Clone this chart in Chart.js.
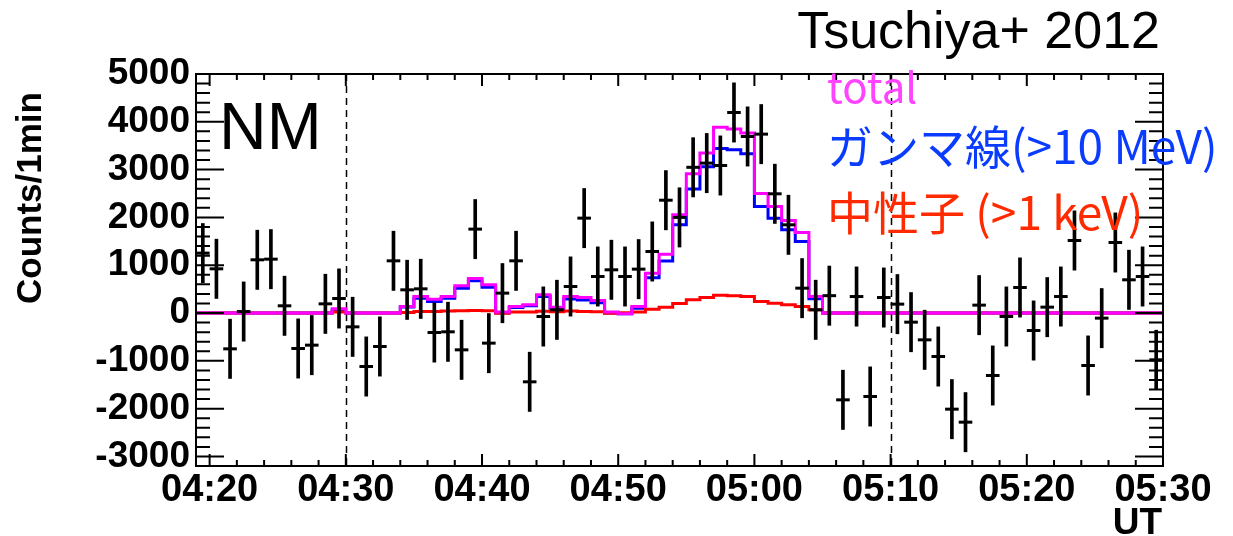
<!DOCTYPE html>
<html>
<head>
<meta charset="utf-8">
<script src="https://cdn.jsdelivr.net/npm/chart.js@4.4.1/dist/chart.umd.min.js"></script>
<style>
  html,body{margin:0;padding:0;background:#fff}
  #wrap{width:1233px;height:536px}
</style>
</head>
<body>
<div id="wrap"><canvas id="c" width="1233" height="536"></canvas></div>
<script>
// one-minute bins, first bin starts at 04:19 (minute -1 relative to 04:20)
var binStart = -1;
var errHalf = 620;

// NM counts per minute (bin centres)
var counts = [1253, 925, -749, 31, 1113, 1127, 151, -742, -672, 192,
  304, -289, -1119, -700, 1092, 485, 506, -408, -393, -770,
  1755, -630, 416, 1092, -1439, -73, 67, 555, 1985, 764,
  904, 764, 918, 1287, 2360, 2000, 3048, 3136, 3086, 4195,
  3693, 3742, 2494, 1845, 520, 67, 363, -1816, 345, -1746,
  324, 186, -191, -561, -910, -2011, -2283, 165, -1307, -73,
  534, -366, 123, 345, 1517, -1098, -107, 1475, 695, 764, -979];

// model histograms, same bins
var totalHist = [0, 0, 0, 0, 0, 0, 0, 0, 0, 0,
  90, 0, 0, 0, 0, 136, 345, 290, 345, 569,
  722, 590, 20, 136, 171, 380, 122, 345, 325, 262,
  20, -15, 136, 834, 1230, 2054, 2915, 3350, 3885, 3850,
  3765, 2500, 2229, 1936, 1685, 346, 0, 0, 0, 0,
  0, 0, 0, 0, 0, 0, 0, 0, 0, 0,
  0, 0, 0, 0, 0, 0, 0, 0, 0, 0, 0];
var gammaHist = [0, 0, 0, 0, 0, 0, 0, 0, 0, 0,
  70, 0, 0, 0, 0, 126, 311, 241, 311, 520,
  674, 541, 5, 115, 150, 345, 100, 295, 270, 215,
  0, -15, 101, 740, 1090, 1845, 2592, 3060, 3440, 3414,
  3330, 2229, 1985, 1741, 1497, 300, 0, 0, 0, 0,
  0, 0, 0, 0, 0, 0, 0, 0, 0, 0,
  0, 0, 0, 0, 0, 0, 0, 0, 0, 0, 0];
var neutronHist = [0, 0, 0, 0, 0, 0, 0, 0, 0, 0,
  20, 0, 0, 0, 0, 10, 30, 30, 40, 50,
  55, 50, -5, 20, 20, 35, 25, 40, 30, 25,
  -5, 5, 20, 81, 122, 200, 276, 325, 374, 362,
  346, 241, 206, 171, 136, 67, 0, 0, 0, 0,
  0, 0, 0, 0, 0, 0, 0, 0, 0, 0,
  0, 0, 0, 0, 0, 0, 0, 0, 0, 0, 0];

var xTickValues = [0, 10, 20, 30, 40, 50, 60, 70];
var xTickLabels = ['04:20', '04:30', '04:40', '04:50', '05:00', '05:10', '05:20', '05:30'];
var yTickValues = [-3000, -2000, -1000, 0, 1000, 2000, 3000, 4000, 5000];
var markerMinutes = [10, 50];

var legendItems = [
  {text: 'total', color: '#ff44ff', y: 103, size: 42},
  {text: 'ガンマ線(>10 MeV)', color: '#0a3cff', y: 164, size: 46},
  {text: '中性子 (>1 keV)', color: '#ff2a00', y: 230, size: 46}
];

// bin i covers [binStart+i, binStart+i+1]; with Chart.js stepped 'before'
// each segment keeps the value of its start point
function stepData(vals){
  var d = vals.map(function(v, i){ return {x: binStart + i, y: v}; });
  d.push({x: binStart + vals.length, y: vals[vals.length - 1]});
  return d;
}

var rootFrame = {
  id: 'rootFrame',
  beforeDatasetsDraw: function(chart){
    var ctx = chart.ctx, a = chart.chartArea, xs = chart.scales.x;
    ctx.save();
    ctx.strokeStyle = '#000'; ctx.lineWidth = 1.5; ctx.setLineDash([7, 5]);
    markerMinutes.forEach(function(m){
      var px = Math.round(xs.getPixelForValue(m)) + 0.5;
      ctx.beginPath(); ctx.moveTo(px, a.top); ctx.lineTo(px, a.bottom); ctx.stroke();
    });
    ctx.restore();
  },
  afterDatasetsDraw: function(chart){
    var ctx = chart.ctx, a = chart.chartArea, xs = chart.scales.x, ys = chart.scales.y;
    ctx.save();
    ctx.strokeStyle = '#000'; ctx.lineWidth = 2;
    ctx.beginPath();
    for(var m = 0; m <= 70; m += 2){
      var px = xs.getPixelForValue(m), len = (m % 10 === 0) ? 12 : 6;
      ctx.moveTo(px, a.bottom); ctx.lineTo(px, a.bottom - len);
      ctx.moveTo(px, a.top); ctx.lineTo(px, a.top + len);
    }
    for(var v = -3000; v <= 5000; v += 200){
      var py = ys.getPixelForValue(v), l2 = (v % 1000 === 0) ? 28 : 14;
      ctx.moveTo(a.left, py); ctx.lineTo(a.left + l2, py);
      ctx.moveTo(a.right, py); ctx.lineTo(a.right - l2, py);
    }
    ctx.stroke();
    ctx.strokeRect(a.left, a.top, a.right - a.left, a.bottom - a.top);
    ctx.restore();
  },
  afterDraw: function(chart){
    var ctx = chart.ctx;
    ctx.save();
    ctx.fillStyle = '#000';
    ctx.textBaseline = 'alphabetic';
    ctx.font = '52px "Liberation Sans", Arial, sans-serif';
    ctx.textAlign = 'right';
    ctx.fillText('Tsuchiya+ 2012', 1160, 48);
    ctx.font = 'bold 37px "Liberation Sans", Arial, sans-serif';
    ctx.fillText('UT', 1162, 534);
    ctx.textAlign = 'left';
    ctx.font = '66px "Liberation Sans", Arial, sans-serif';
    ctx.fillText('NM', 219, 149);
    legendItems.forEach(function(it){
      ctx.font = it.size + 'px "Noto Sans CJK JP", "Noto Sans", sans-serif';
      ctx.fillStyle = it.color;
      ctx.fillText(it.text, 827, it.y);
    });
    ctx.fillStyle = '#000';
    ctx.translate(41, 198);
    ctx.rotate(-Math.PI / 2);
    ctx.textAlign = 'center';
    ctx.font = 'bold 35px "Liberation Sans", Arial, sans-serif';
    ctx.fillText('Counts/1min', 0, 0);
    ctx.restore();
  }
};

new Chart(document.getElementById('c'), {
  type: 'scatter',
  data: {
    datasets: [
      {
        type: 'scatter',
        data: counts.map(function(v, i){ return {x: binStart + i + 0.5, y: v}; }),
        pointStyle: 'line', pointRadius: 6.8, pointBorderWidth: 3,
        pointBorderColor: '#000', borderColor: '#000', backgroundColor: '#000'
      },
      {
        type: 'bar',
        data: counts.map(function(v, i){ return {x: binStart + i + 0.5, y: [v - errHalf, v + errHalf]}; }),
        backgroundColor: '#000', borderWidth: 0, barThickness: 3
      },
      {
        type: 'line', data: stepData(totalHist), stepped: 'before',
        borderColor: '#ff00ff', borderWidth: 3, pointRadius: 0, fill: false
      },
      {
        type: 'line', data: stepData(neutronHist), stepped: 'before',
        borderColor: '#ff0000', borderWidth: 3, pointRadius: 0, fill: false
      },
      {
        type: 'line', data: stepData(gammaHist), stepped: 'before',
        borderColor: '#0000ff', borderWidth: 3, pointRadius: 0, fill: false
      }
    ]
  },
  options: {
    responsive: false,
    animation: false,
    devicePixelRatio: 1,
    layout: {padding: {left: 0, right: 70, top: 74, bottom: 0}},
    plugins: {legend: {display: false}, tooltip: {enabled: false}},
    scales: {
      x: {
        type: 'linear', position: 'bottom', min: -1, max: 70, offset: false,
        grid: {display: false, drawTicks: false}, border: {display: false},
        afterBuildTicks: function(s){ s.ticks = xTickValues.map(function(v){ return {value: v}; }); },
        afterFit: function(s){ s.height = 70; },
        ticks: {
          autoSkip: false, maxRotation: 0, padding: 2, color: '#000',
          font: {family: '"Liberation Sans", Arial, sans-serif', size: 38, weight: 'bold'},
          callback: function(v, i){ return xTickLabels[i]; }
        }
      },
      y: {
        type: 'linear', position: 'left', min: -3200, max: 5000,
        grid: {display: false, drawTicks: false}, border: {display: false},
        afterBuildTicks: function(s){ s.ticks = yTickValues.map(function(v){ return {value: v}; }); },
        afterFit: function(s){ s.width = 196; },
        ticks: {
          padding: 6, color: '#000',
          font: {family: '"Liberation Sans", Arial, sans-serif', size: 37, weight: 'bold'},
          callback: function(v){ return String(v); }
        }
      }
    }
  },
  plugins: [rootFrame]
});
</script>
</body>
</html>
